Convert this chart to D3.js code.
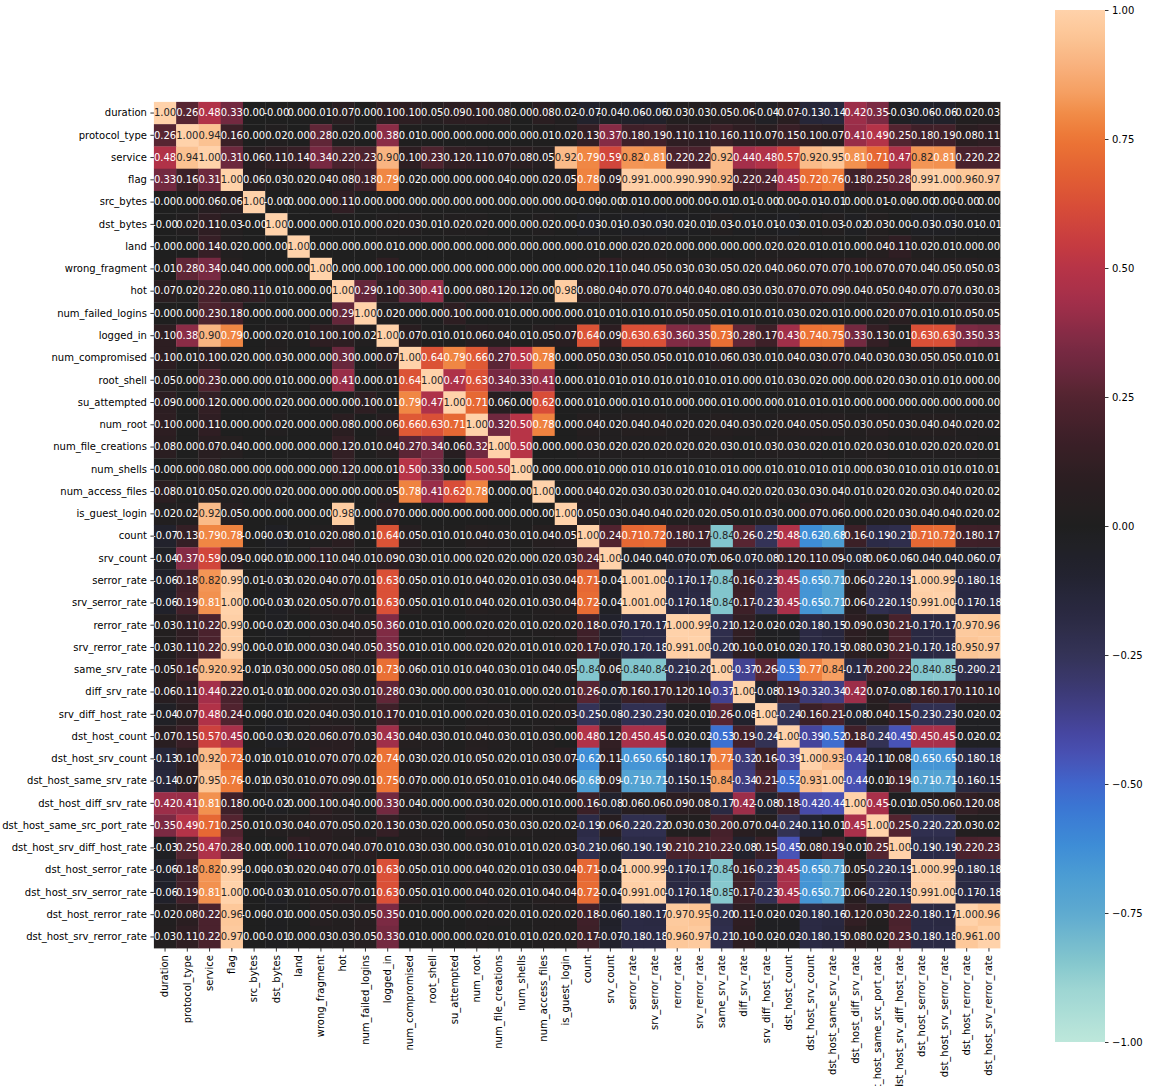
<!DOCTYPE html>
<html>
<head>
<meta charset="utf-8">
<script src="https://cdn.jsdelivr.net/npm/d3@7"></script>
<style>
  html, body { margin: 0; padding: 0; background: #ffffff; }
  svg { display: block; font-family: "DejaVu Sans", sans-serif; }
</style>
</head>
<body>
<svg id="chart" width="1155" height="1086"></svg>
<script>
// Feature names (row and column order of the correlation matrix)
const features = [
  "duration", "protocol_type", "service", "flag", "src_bytes", "dst_bytes", "land",
  "wrong_fragment", "hot", "num_failed_logins", "logged_in", "num_compromised",
  "root_shell", "su_attempted", "num_root", "num_file_creations", "num_shells",
  "num_access_files", "is_guest_login", "count", "srv_count", "serror_rate",
  "srv_serror_rate", "rerror_rate", "srv_rerror_rate", "same_srv_rate", "diff_srv_rate",
  "srv_diff_host_rate", "dst_host_count", "dst_host_srv_count", "dst_host_same_srv_rate",
  "dst_host_diff_srv_rate", "dst_host_same_src_port_rate", "dst_host_srv_diff_host_rate",
  "dst_host_serror_rate", "dst_host_srv_serror_rate", "dst_host_rerror_rate",
  "dst_host_srv_rerror_rate"
];

// Pairwise correlation coefficients, one row per feature (-0 marks tiny negatives)
const corrRows = [
  [1.00,0.26,0.48,0.33,0.00,-0,0.00,0.01,0.07,0.00,0.10,0.10,0.05,0.09,0.10,0.08,0.00,0.08,0.02,-0.07,-0.04,-0.06,-0.06,0.03,0.03,0.05,0.06,-0.04,0.07,-0.13,-0.14,0.42,0.35,-0.03,-0.06,-0.06,0.02,0.03],
  [0.26,1.00,0.94,0.16,0.00,0.02,0.00,0.28,0.02,0.00,0.38,0.01,0.00,0.00,0.00,0.00,0.00,0.01,0.02,0.13,0.37,0.18,0.19,0.11,0.11,0.16,0.11,0.07,0.15,0.10,0.07,0.41,0.49,0.25,0.18,0.19,0.08,0.11],
  [0.48,0.94,1.00,0.31,0.06,0.11,0.14,0.34,0.22,0.23,0.90,0.10,0.23,0.12,0.11,0.07,0.08,0.05,0.92,0.79,0.59,0.82,0.81,0.22,0.22,0.92,0.44,0.48,0.57,0.92,0.95,0.81,0.71,0.47,0.82,0.81,0.22,0.22],
  [0.33,0.16,0.31,1.00,0.06,0.03,0.02,0.04,0.08,0.18,0.79,0.02,0.00,0.00,0.00,0.04,0.00,0.02,0.05,0.78,0.09,0.99,1.00,0.99,0.99,0.92,0.22,0.24,0.45,0.72,0.76,0.18,0.25,0.28,0.99,1.00,0.96,0.97],
  [0.00,0.00,0.06,0.06,1.00,-0,0.00,0.00,0.11,0.00,0.00,0.00,0.00,0.00,0.00,0.00,0.00,0.00,0.00,-0,-0,0.01,0.00,0.00,0.00,-0.01,0.01,-0,0.00,-0.01,-0.01,0.00,0.01,-0,-0,0.00,-0,0.00],
  [-0,0.02,0.11,0.03,-0,1.00,0.00,0.00,0.01,0.00,0.02,0.03,0.01,0.02,0.02,0.00,0.00,0.02,0.00,-0.03,-0.01,-0.03,-0.03,-0.02,-0.01,0.03,-0.01,-0.01,-0.03,0.01,0.03,-0.02,0.03,0.00,-0.03,-0.03,-0.01,-0.01],
  [0.00,0.00,0.14,0.02,0.00,0.00,1.00,0.00,0.00,0.00,0.01,0.00,0.00,0.00,0.00,0.00,0.00,0.00,0.00,0.01,0.00,0.02,0.02,0.00,0.00,0.00,0.00,0.02,0.02,0.01,0.01,0.00,0.04,0.11,0.02,0.01,0.00,0.00],
  [0.01,0.28,0.34,0.04,0.00,0.00,0.00,1.00,0.00,0.00,0.10,0.00,0.00,0.00,0.00,0.00,0.00,0.00,0.00,0.02,0.11,0.04,0.05,0.03,0.03,0.05,0.02,0.04,0.06,0.07,0.07,0.10,0.07,0.07,0.04,0.05,0.05,0.03],
  [0.07,0.02,0.22,0.08,0.11,0.01,0.00,0.00,1.00,0.29,0.10,0.30,0.41,0.00,0.08,0.12,0.12,0.00,0.98,0.08,0.04,0.07,0.07,0.04,0.04,0.08,0.03,0.03,0.07,0.07,0.09,0.04,0.05,0.04,0.07,0.07,0.03,0.03],
  [0.00,0.00,0.23,0.18,0.00,0.00,0.00,0.00,0.29,1.00,0.02,0.00,0.00,0.10,0.00,0.01,0.00,0.00,0.00,0.01,0.01,0.01,0.01,0.05,0.05,0.01,0.01,0.01,0.03,0.02,0.01,0.00,0.02,0.07,0.01,0.01,0.05,0.05],
  [0.10,0.38,0.90,0.79,0.00,0.02,0.01,0.10,0.10,0.02,1.00,0.07,0.01,0.01,0.06,0.04,0.01,0.05,0.07,0.64,0.09,0.63,0.63,0.36,0.35,0.73,0.28,0.17,0.43,0.74,0.75,0.33,0.13,0.01,0.63,0.63,0.35,0.33],
  [0.10,0.01,0.10,0.02,0.00,0.03,0.00,0.00,0.30,0.00,0.07,1.00,0.64,0.79,0.66,0.27,0.50,0.78,0.00,0.05,0.03,0.05,0.05,0.01,0.01,0.06,0.03,0.01,0.04,0.03,0.07,0.04,0.03,0.03,0.05,0.05,0.01,0.01],
  [0.05,0.00,0.23,0.00,0.00,0.01,0.00,0.00,0.41,0.00,0.01,0.64,1.00,0.47,0.63,0.34,0.33,0.41,0.00,0.01,0.01,0.01,0.01,0.01,0.01,0.01,0.00,0.01,0.03,0.02,0.00,0.00,0.02,0.03,0.01,0.01,0.00,0.00],
  [0.09,0.00,0.12,0.00,0.00,0.02,0.00,0.00,0.00,0.10,0.01,0.79,0.47,1.00,0.71,0.06,0.00,0.62,0.00,0.01,0.00,0.01,0.01,0.00,0.00,0.01,0.00,0.00,0.01,0.01,0.01,0.00,0.00,0.00,0.00,0.00,0.00,0.00],
  [0.10,0.00,0.11,0.00,0.00,0.02,0.00,0.00,0.08,0.00,0.06,0.66,0.63,0.71,1.00,0.32,0.50,0.78,0.00,0.04,0.02,0.04,0.04,0.02,0.02,0.04,0.03,0.02,0.04,0.05,0.05,0.03,0.05,0.03,0.04,0.04,0.02,0.02],
  [0.08,0.00,0.07,0.04,0.00,0.00,0.00,0.00,0.12,0.01,0.04,0.27,0.34,0.06,0.32,1.00,0.50,0.00,0.00,0.03,0.02,0.02,0.02,0.02,0.02,0.03,0.01,0.03,0.03,0.02,0.01,0.02,0.03,0.01,0.02,0.02,0.02,0.01],
  [0.00,0.00,0.08,0.00,0.00,0.00,0.00,0.00,0.12,0.00,0.01,0.50,0.33,0.00,0.50,0.50,1.00,0.00,0.00,0.01,0.00,0.01,0.01,0.01,0.01,0.01,0.00,0.01,0.01,0.01,0.01,0.00,0.03,0.01,0.01,0.01,0.01,0.01],
  [0.08,0.01,0.05,0.02,0.00,0.02,0.00,0.00,0.00,0.00,0.05,0.78,0.41,0.62,0.78,0.00,0.00,1.00,0.00,0.04,0.02,0.03,0.03,0.02,0.01,0.04,0.02,0.02,0.03,0.03,0.04,0.01,0.02,0.02,0.03,0.04,0.02,0.02],
  [0.02,0.02,0.92,0.05,0.00,0.00,0.00,0.00,0.98,0.00,0.07,0.00,0.00,0.00,0.00,0.00,0.00,0.00,1.00,0.05,0.03,0.04,0.04,0.02,0.02,0.05,0.01,0.03,0.00,0.07,0.06,0.00,0.02,0.03,0.04,0.04,0.02,0.02],
  [-0.07,0.13,0.79,0.78,-0,-0.03,0.01,0.02,0.08,0.01,0.64,0.05,0.01,0.01,0.04,0.03,0.01,0.04,0.05,1.00,0.24,0.71,0.72,0.18,0.17,-0.84,0.26,-0.25,0.48,-0.62,-0.68,0.16,-0.19,-0.21,0.71,0.72,0.18,0.17],
  [-0.04,0.37,0.59,0.09,-0,-0.01,0.00,0.11,0.04,0.01,0.09,0.03,0.01,0.00,0.02,0.02,0.00,0.02,0.03,0.24,1.00,-0.04,-0.04,-0.07,-0.07,0.06,-0.07,-0.08,0.12,0.11,0.09,-0.08,0.06,-0.06,-0.04,-0.04,-0.06,-0.07],
  [-0.06,0.18,0.82,0.99,0.01,-0.03,0.02,0.04,0.07,0.01,0.63,0.05,0.01,0.01,0.04,0.02,0.01,0.03,0.04,0.71,-0.04,1.00,1.00,-0.17,-0.17,-0.84,0.16,-0.23,0.45,-0.65,-0.71,0.06,-0.22,-0.19,1.00,0.99,-0.18,-0.18],
  [-0.06,0.19,0.81,1.00,0.00,-0.03,0.02,0.05,0.07,0.01,0.63,0.05,0.01,0.01,0.04,0.02,0.01,0.03,0.04,0.72,-0.04,1.00,1.00,-0.17,-0.18,-0.84,0.17,-0.23,0.45,-0.65,-0.71,0.06,-0.22,-0.19,0.99,1.00,-0.17,-0.18],
  [0.03,0.11,0.22,0.99,0.00,-0.02,0.00,0.03,0.04,0.05,0.36,0.01,0.01,0.00,0.02,0.02,0.01,0.02,0.02,0.18,-0.07,-0.17,-0.17,1.00,0.99,-0.21,0.12,-0.02,-0.02,-0.18,-0.15,0.09,0.03,0.21,-0.17,-0.17,0.97,0.96],
  [0.03,0.11,0.22,0.99,0.00,-0.01,0.00,0.03,0.04,0.05,0.35,0.01,0.01,0.00,0.02,0.02,0.01,0.01,0.02,0.17,-0.07,-0.17,-0.18,0.99,1.00,-0.20,0.10,-0.01,-0.02,-0.17,-0.15,0.08,0.03,0.21,-0.17,-0.18,0.95,0.97],
  [0.05,0.16,0.92,0.92,-0.01,0.03,0.00,0.05,0.08,0.01,0.73,0.06,0.01,0.01,0.04,0.03,0.01,0.04,0.05,-0.84,0.06,-0.84,-0.84,-0.21,-0.20,1.00,-0.37,0.26,-0.53,0.77,0.84,-0.17,0.20,0.22,-0.84,-0.85,-0.20,-0.21],
  [0.06,0.11,0.44,0.22,0.01,-0.01,0.00,0.02,0.03,0.01,0.28,0.03,0.00,0.00,0.03,0.01,0.00,0.02,0.01,0.26,-0.07,0.16,0.17,0.12,0.10,-0.37,1.00,-0.08,0.19,-0.32,-0.34,0.42,0.07,-0.08,0.16,0.17,0.11,0.10],
  [-0.04,0.07,0.48,0.24,-0,-0.01,0.02,0.04,0.03,0.01,0.17,0.01,0.01,0.00,0.02,0.03,0.01,0.02,0.03,-0.25,-0.08,-0.23,-0.23,-0.02,-0.01,0.26,-0.08,1.00,-0.24,0.16,0.21,-0.08,0.04,0.15,-0.23,-0.23,-0.02,-0.02],
  [0.07,0.15,0.57,0.45,0.00,-0.03,0.02,0.06,0.07,0.03,0.43,0.04,0.03,0.01,0.04,0.03,0.01,0.03,0.00,0.48,0.12,0.45,0.45,-0.02,-0.02,-0.53,0.19,-0.24,1.00,-0.39,-0.52,0.18,-0.24,-0.45,0.45,0.45,-0.02,-0.02],
  [-0.13,0.10,0.92,0.72,-0.01,0.01,0.01,0.07,0.07,0.02,0.74,0.03,0.02,0.01,0.05,0.02,0.01,0.03,0.07,-0.62,0.11,-0.65,-0.65,-0.18,-0.17,0.77,-0.32,0.16,-0.39,1.00,0.93,-0.42,-0.11,0.08,-0.65,-0.65,-0.18,-0.18],
  [-0.14,0.07,0.95,0.76,-0.01,0.03,0.01,0.07,0.09,0.01,0.75,0.07,0.00,0.01,0.05,0.01,0.01,0.04,0.06,-0.68,0.09,-0.71,-0.71,-0.15,-0.15,0.84,-0.34,0.21,-0.52,0.93,1.00,-0.44,-0.01,0.19,-0.71,-0.71,-0.16,-0.15],
  [0.42,0.41,0.81,0.18,0.00,-0.02,0.00,0.10,0.04,0.00,0.33,0.04,0.00,0.00,0.03,0.02,0.00,0.01,0.00,0.16,-0.08,0.06,0.06,0.09,0.08,-0.17,0.42,-0.08,0.18,-0.42,-0.44,1.00,0.45,-0.01,0.05,0.06,0.12,0.08],
  [0.35,0.49,0.71,0.25,0.01,0.03,0.04,0.07,0.05,0.02,0.13,0.03,0.02,0.00,0.05,0.03,0.03,0.02,0.02,-0.19,0.06,-0.22,-0.22,0.03,0.03,0.20,0.07,0.04,-0.24,-0.11,-0.01,0.45,1.00,0.25,-0.22,-0.22,0.03,0.02],
  [-0.03,0.25,0.47,0.28,-0,0.00,0.11,0.07,0.04,0.07,0.01,0.03,0.03,0.00,0.03,0.01,0.01,0.02,0.03,-0.21,-0.06,-0.19,-0.19,0.21,0.21,0.22,-0.08,0.15,-0.45,0.08,0.19,-0.01,0.25,1.00,-0.19,-0.19,0.22,0.23],
  [-0.06,0.18,0.82,0.99,-0,-0.03,0.02,0.04,0.07,0.01,0.63,0.05,0.01,0.00,0.04,0.02,0.01,0.03,0.04,0.71,-0.04,1.00,0.99,-0.17,-0.17,-0.84,0.16,-0.23,0.45,-0.65,-0.71,0.05,-0.22,-0.19,1.00,0.99,-0.18,-0.18],
  [-0.06,0.19,0.81,1.00,0.00,-0.03,0.01,0.05,0.07,0.01,0.63,0.05,0.01,0.00,0.04,0.02,0.01,0.04,0.04,0.72,-0.04,0.99,1.00,-0.17,-0.18,-0.85,0.17,-0.23,0.45,-0.65,-0.71,0.06,-0.22,-0.19,0.99,1.00,-0.17,-0.18],
  [0.02,0.08,0.22,0.96,-0,-0.01,0.00,0.05,0.03,0.05,0.35,0.01,0.00,0.00,0.02,0.02,0.01,0.02,0.02,0.18,-0.06,-0.18,-0.17,0.97,0.95,-0.20,0.11,-0.02,-0.02,-0.18,-0.16,0.12,0.03,0.22,-0.18,-0.17,1.00,0.96],
  [0.03,0.11,0.22,0.97,0.00,-0.01,0.00,0.03,0.03,0.05,0.33,0.01,0.00,0.00,0.02,0.01,0.01,0.02,0.02,0.17,-0.07,-0.18,-0.18,0.96,0.97,-0.21,0.10,-0.02,-0.02,-0.18,-0.15,0.08,0.02,0.23,-0.18,-0.18,0.96,1.00]
];

// Colour bar tick values
const colorbarTicks = [1, 0.75, 0.5, 0.25, 0, -0.25, -0.5, -0.75, -1];

// Diverging "ice / fire" palette anchors over [-1, 1]
const paletteStops = [-1.00, -0.90, -0.84, -0.75, -0.68, -0.62, -0.55, -0.50, -0.45, -0.40, -0.35, -0.30, -0.25, -0.18, -0.10, 0.00,
                      0.10, 0.18, 0.25, 0.30, 0.35, 0.41, 0.45, 0.50, 0.55, 0.62, 0.68, 0.75, 0.80, 0.84, 0.90, 0.95, 1.00];
const paletteColors = ["#bde7db", "#9ed6d3", "#82c5cd", "#5eaad0", "#4c9dd3", "#3e8dd6", "#3a78d4", "#4066cc", "#4853b6", "#4646a0", "#403e85", "#3a386c", "#343357", "#2b2a44", "#232331", "#1f1f1f",
                       "#2d1e22", "#3f2029", "#532430", "#68273c", "#7b2a43", "#982d48", "#a8304a", "#b73447", "#c73c40", "#d84d38", "#e25f33", "#ec7535", "#f18c48", "#f59f62", "#f9b481", "#fcc596", "#ffd2aa"];

const svg = d3.select("#chart");

// Heatmap geometry
const hmLeft = 153.9, hmTop = 101.9, hmSize = 846.2;
const x = d3.scaleBand().domain(features).range([hmLeft, hmLeft + hmSize]);
const y = d3.scaleBand().domain(features).range([hmTop, hmTop + hmSize]);

const color = d3.scaleLinear()
  .domain(paletteStops)
  .range(paletteColors)
  .interpolate(d3.interpolateRgb)
  .clamp(true);

// Two-decimal label keeping the sign of tiny negatives
const fmtCell = v => ((v < 0 || Object.is(v, -0)) ? "-" : "") + Math.abs(v).toFixed(2);

// Pick dark or white annotation text from the cell's relative luminance
function textColor(c) {
  const rgb = d3.rgb(c);
  const lin = u => { u /= 255; return u <= 0.03928 ? u / 12.92 : Math.pow((u + 0.055) / 1.055, 2.4); };
  const lum = 0.2126 * lin(rgb.r) + 0.7152 * lin(rgb.g) + 0.0722 * lin(rgb.b);
  return lum > 0.408 ? "#262626" : "#ffffff";
}

const cells = [];
corrRows.forEach((row, i) => row.forEach((v, j) => cells.push({ r: features[i], c: features[j], v })));

const g = svg.append("g");

g.selectAll("rect.cell")
  .data(cells)
  .join("rect")
  .attr("class", "cell")
  .attr("x", d => x(d.c))
  .attr("y", d => y(d.r))
  .attr("width", x.bandwidth() + 0.3)
  .attr("height", y.bandwidth() + 0.3)
  .attr("fill", d => color(d.v));

g.selectAll("text.annot")
  .data(cells)
  .join("text")
  .attr("class", "annot")
  .attr("x", d => x(d.c) + x.bandwidth() / 2)
  .attr("y", d => y(d.r) + y.bandwidth() / 2)
  .attr("dy", "0.33em")
  .attr("text-anchor", "middle")
  .attr("font-size", 10)
  .attr("fill", d => textColor(color(d.v)))
  .text(d => fmtCell(d.v));

// Row labels
const yAxis = svg.append("g")
  .attr("transform", `translate(${hmLeft},0)`)
  .call(d3.axisLeft(y).tickSize(3.5).tickPadding(3.5));
yAxis.select(".domain").remove();
yAxis.selectAll(".tick line").attr("stroke", "#000").attr("stroke-width", 0.8);
yAxis.selectAll(".tick text")
  .attr("font-family", "DejaVu Sans, sans-serif")
  .attr("font-size", 10)
  .attr("fill", "#000")
  .attr("dy", "0.33em");

// Column labels, rotated
const xAxis = svg.append("g")
  .attr("transform", `translate(0,${hmTop + hmSize})`)
  .call(d3.axisBottom(x).tickSize(3.5).tickPadding(3.5));
xAxis.select(".domain").remove();
xAxis.selectAll(".tick line").attr("stroke", "#000").attr("stroke-width", 0.8);
xAxis.selectAll(".tick text")
  .attr("font-family", "DejaVu Sans, sans-serif")
  .attr("font-size", 10)
  .attr("fill", "#000")
  .attr("transform", "translate(0,7) rotate(-90)")
  .attr("x", 0)
  .attr("y", 0)
  .attr("dy", "0.33em")
  .attr("text-anchor", "end");

// Colour bar
const cbLeft = 1055, cbWidth = 50;
const cbScale = d3.scaleLinear().domain([-1, 1]).range([1042, 10]);

const defs = svg.append("defs");
const grad = defs.append("linearGradient")
  .attr("id", "cbGrad")
  .attr("x1", 0).attr("y1", 1).attr("x2", 0).attr("y2", 0);
const gradSteps = d3.range(0, 101).map(k => k / 100);
grad.selectAll("stop")
  .data(gradSteps)
  .join("stop")
  .attr("offset", t => t)
  .attr("stop-color", t => color(-1 + 2 * t));

svg.append("rect")
  .attr("x", cbLeft)
  .attr("y", cbScale(1))
  .attr("width", cbWidth)
  .attr("height", cbScale(-1) - cbScale(1))
  .attr("fill", "url(#cbGrad)");

const cbAxis = svg.append("g")
  .attr("transform", `translate(${cbLeft + cbWidth},0)`)
  .call(d3.axisRight(cbScale)
    .tickValues(colorbarTicks)
    .tickSize(3.5)
    .tickPadding(3.5)
    .tickFormat(v => (v < 0 ? "\u2212" : "") + Math.abs(v).toFixed(2)));
cbAxis.select(".domain").remove();
cbAxis.selectAll(".tick line").attr("stroke", "#000").attr("stroke-width", 0.8);
cbAxis.selectAll(".tick text")
  .attr("font-family", "DejaVu Sans, sans-serif")
  .attr("font-size", 10)
  .attr("fill", "#000")
  .attr("dy", "0.33em");
</script>
</body>
</html>
